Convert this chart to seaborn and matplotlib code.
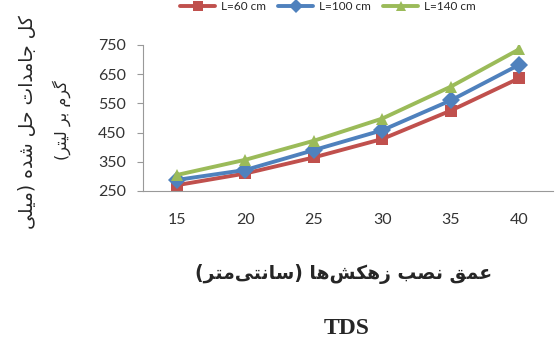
import pandas as pd
import matplotlib
matplotlib.use("Agg")
import matplotlib.pyplot as plt
import seaborn as sns

# depth of drain installation (cm) and total dissolved solids (mg/l)
depth = [15, 20, 25, 30, 35, 40]
tds_60 = [270, 310, 365, 428, 525, 636]
tds_100 = [288, 322, 390, 458, 560, 682]
tds_140 = [305, 357, 422, 498, 607, 735]
series = ["L=60 cm", "L=100 cm", "L=140 cm"]
y_ticks = [250, 350, 450, 550, 650, 750]

ylabel_1 = "کل جامدات حل شده (میلی"
ylabel_2 = "گرم بر لیتر)"
xlabel = "عمق نصب زهکش\u200cها (سانتی\u200cمتر)"
title = "TDS"

# isolated, final, initial, medial presentation forms
FORMS = {
    "ا": "\ufe8d\ufe8e", "د": "\ufea9\ufeaa", "ر": "\ufead\ufeae", "ز": "\ufeaf\ufeb0",
    "ب": "\ufe8f\ufe90\ufe91\ufe92", "ت": "\ufe95\ufe96\ufe97\ufe98",
    "ج": "\ufe9d\ufe9e\ufe9f\ufea0", "ح": "\ufea1\ufea2\ufea3\ufea4",
    "س": "\ufeb1\ufeb2\ufeb3\ufeb4", "ش": "\ufeb5\ufeb6\ufeb7\ufeb8",
    "ص": "\ufeb9\ufeba\ufebb\ufebc", "ع": "\ufec9\ufeca\ufecb\ufecc",
    "ق": "\ufed5\ufed6\ufed7\ufed8", "ل": "\ufedd\ufede\ufedf\ufee0",
    "م": "\ufee1\ufee2\ufee3\ufee4", "ن": "\ufee5\ufee6\ufee7\ufee8",
    "ه": "\ufee9\ufeea\ufeeb\ufeec", "ک": "\ufb8e\ufb8f\ufb90\ufb91",
    "گ": "\ufb92\ufb93\ufb94\ufb95", "ی": "\ufbfc\ufbfd\ufbfe\ufbff",
}


def persian(text):
    out = []
    for i, c in enumerate(text):
        if c not in FORMS:
            out.append(c)
            continue
        prev = text[i - 1] if i > 0 else ""
        nxt = text[i + 1] if i + 1 < len(text) else ""
        jp = prev in FORMS and len(FORMS[prev]) == 4
        jn = nxt in FORMS and len(FORMS[c]) == 4
        f = FORMS[c]
        if jp and jn:
            out.append(f[3])
        elif jp:
            out.append(f[1])
        elif jn:
            out.append(f[2])
        else:
            out.append(f[0])
    vis = "".join(out).replace("\u200c", "")[::-1]
    return vis.translate(str.maketrans("()", ")("))


df = pd.DataFrame({
    "depth": depth * 3,
    "tds": tds_60 + tds_100 + tds_140,
    "L": [series[0]] * 6 + [series[1]] * 6 + [series[2]] * 6,
})

sns.set_style("white")
plt.rcParams["font.family"] = ["Lato", "DejaVu Sans"]

fig = plt.figure(figsize=(5.56, 3.47), dpi=100)
ax = fig.add_axes([0.257, 0.4496, 0.738, 0.4208])

colors = ["#C0504D", "#4F81BD", "#9BBB59"]
sns.lineplot(data=df, x="depth", y="tds", hue="L", style="L",
             markers=["s", "D", "^"], dashes=False, palette=colors,
             linewidth=2.8, markersize=9, markeredgewidth=0, ax=ax)

ax.set_xlim(12.5, 42.5)
ax.set_ylim(250, 750)
ax.set_xticks(depth)
ax.set_yticks(y_ticks)
ax.tick_params(axis="x", length=0, pad=16, labelsize=11.5, labelcolor="#333333")
ax.tick_params(axis="y", length=4, width=0.8, color="#999999", direction="out",
               left=True, pad=8, labelsize=11.5, labelcolor="#333333")
for s in ["top", "right"]:
    ax.spines[s].set_visible(False)
for s in ["left", "bottom"]:
    ax.spines[s].set_color("#999999")
    ax.spines[s].set_linewidth(0.8)
ax.set_xlabel("")
ax.set_ylabel("")

h, l = ax.get_legend_handles_labels()
ax.legend(h, l, loc="upper center", bbox_to_anchor=(0.59, 1.015), bbox_transform=fig.transFigure,
          ncol=3, frameon=False, fontsize=8.5, handlelength=3, columnspacing=1.0,
          handletextpad=0.5, borderaxespad=0.1, markerscale=0.8)

fig.text(28 / 556, 1 - 122 / 347, persian(ylabel_1), rotation=90, fontsize=13.5,
         ha="center", va="center", family="DejaVu Sans")
fig.text(62 / 556, 1 - 120 / 347, persian(ylabel_2), rotation=90, fontsize=11.5,
         ha="center", va="center", family="DejaVu Sans")
fig.text(344 / 556, 1 - 274 / 347, persian(xlabel), fontsize=13.5, fontweight="bold",
         ha="center", va="center", family="DejaVu Sans")
fig.text(347 / 556, 1 - 329 / 347, title, fontsize=17, fontweight="bold",
         ha="center", va="center", family="Liberation Serif")

fig.savefig("out.png", dpi=100)
